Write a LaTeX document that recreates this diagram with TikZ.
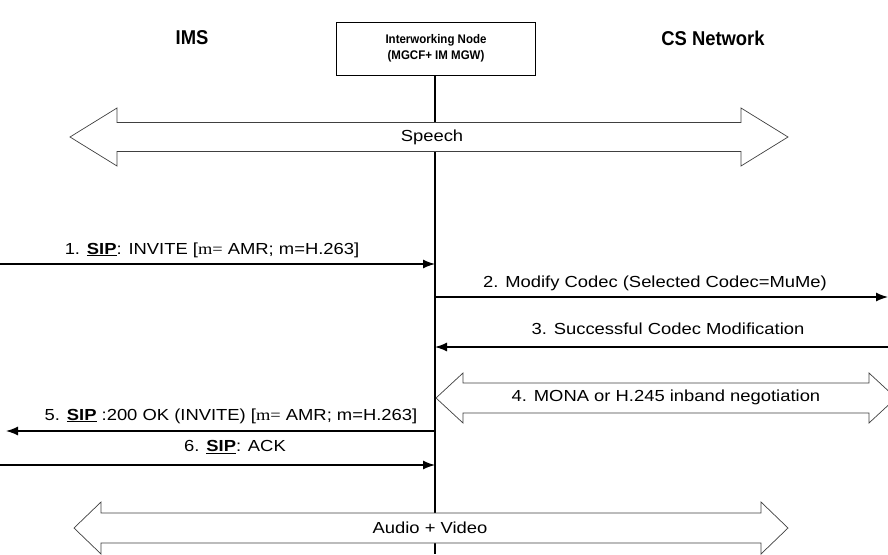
\documentclass[tikz,border=0pt]{standalone}
\usepackage{fontspec}
\setmainfont{Liberation Sans}
\newfontfamily\wide[FakeStretch=1.15]{Liberation Sans}
\newfontfamily\tnr[FakeStretch=1.15]{Liberation Serif}
\newfontfamily\narrow[FakeStretch=0.92]{Liberation Sans}
\usetikzlibrary{arrows.meta}
\begin{document}
\begin{tikzpicture}[x=1pt,y=-1pt,
  msg/.style={line width=1.3pt,-{Latex[length=12pt,width=9pt]}},
  lbl/.style={font=\wide\fontsize{16}{18}\selectfont,inner sep=0pt},
  title/.style={font=\narrow\fontsize{20}{22}\selectfont\bfseries,inner sep=0pt},
  blk/.style={draw=black!75,line width=0.7pt,fill=white},
  life/.style={line width=1.3pt}]
\useasboundingbox (0,0) rectangle (888,554);
\clip (0,0) rectangle (888,554);
% titles
\node[title] (ims) at (192,38) {IMS};
\node[title] (cs) at (713,38) {CS Network};
\node[draw,line width=1pt,minimum width=199pt,minimum height=53pt,align=center,
  font=\narrow\fontsize{12.5}{16}\selectfont\bfseries] (iw) at (436,48.5) {Interworking Node\\(MGCF+ IM MGW)};
\coordinate (bot) at (435,554);
\draw[life] (iw.south -| bot) -- (bot);
% lifeline anchor points
\coordinate (l1) at (435,264);
\coordinate (l2) at (435,297);
\coordinate (l3) at (435,347);
\coordinate (l5) at (435,431);
\coordinate (l6) at (435,465);
\coordinate (e1) at (0,264);
\coordinate (e2) at (888,297);
\coordinate (e3) at (888,347);
\coordinate (e5) at (6,431);
\coordinate (e6) at (0,465);
% block arrow macro
\newcommand{\blockarrow}[6]{%
  \draw[blk] (#1,#3) -- (#1+#4,#3-#5) -- (#1+#4,#3-#6) -- (#2-#4,#3-#6) -- (#2-#4,#3-#5)
    -- (#2,#3) -- (#2-#4,#3+#5) -- (#2-#4,#3+#6) -- (#1+#4,#3+#6) -- (#1+#4,#3+#5) -- cycle;}
\blockarrow{70}{788}{137}{47}{29}{14.5}
\node[lbl] (speech) at (432,137) {Speech};
% messages
\draw[msg] (e1) -- (l1);
\node[lbl] (m1) at (212,250) {1. \underline{\textbf{SIP}}: INVITE [{\tnr m=} AMR; m=H.263]};
\draw[msg] (l2) -- (e2);
\node[lbl] (m2) at (655,283) {2. Modify Codec (Selected Codec=MuMe)};
\draw[msg] (e3) -- (l3);
\node[lbl] (m3) at (668,329) {3. Successful Codec Modification};
\blockarrow{436}{896}{398}{27}{25}{15}
\node[lbl] (m4) at (666,397) {4. MONA or H.245 inband negotiation};
\draw[msg] (l5) -- (e5);
\node[lbl] (m5) at (231,416) {5. \underline{\textbf{SIP}} :200 OK (INVITE) [{\tnr m=} AMR; m=H.263]};
\draw[msg] (e6) -- (l6);
\node[lbl] (m6) at (235,447) {6. \underline{\textbf{SIP}}: ACK};
\blockarrow{74}{788}{528}{27}{26}{15}
\node[lbl] (av) at (430,528) {Audio + Video};
\end{tikzpicture}
\end{document}
